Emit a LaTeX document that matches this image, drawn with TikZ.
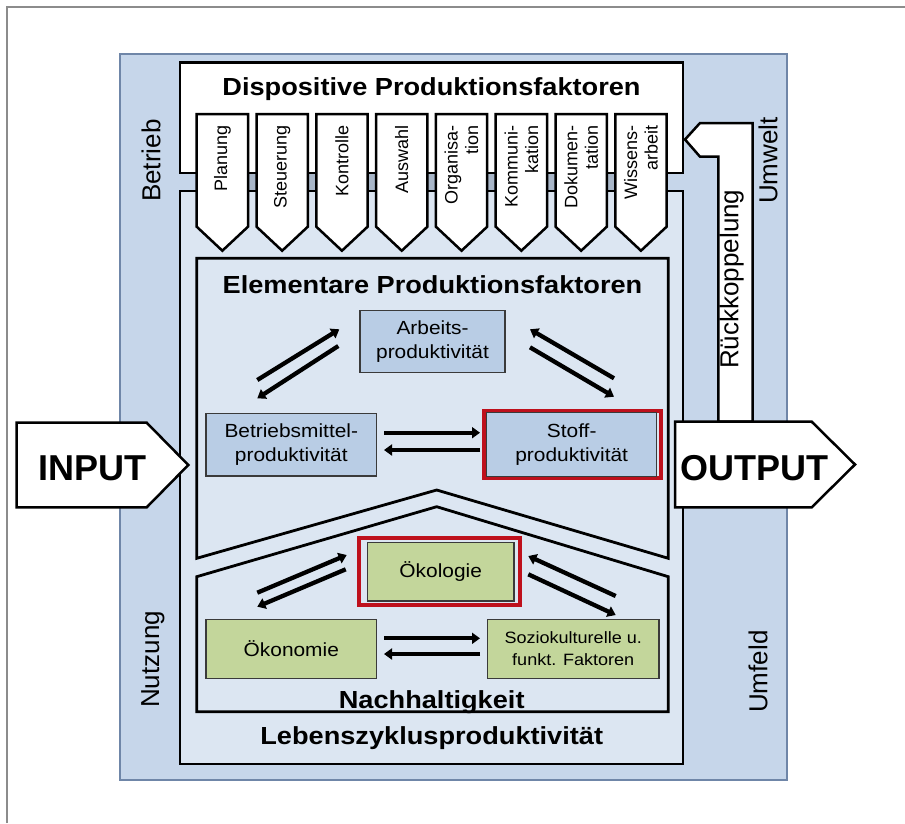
\documentclass[tikz,border=0pt]{standalone}
\usepackage{fontspec}
\setmainfont{Liberation Sans}
\newfontfamily\widefont[FakeStretch=1.1]{Liberation Sans}
\usetikzlibrary{arrows.meta}

\definecolor{frameGray}{HTML}{8C8C8C}
\definecolor{envBlue}{HTML}{C6D6EA}
\definecolor{envEdge}{HTML}{6F86A8}
\definecolor{paleBlue}{HTML}{DCE6F2}
\definecolor{boxBlue}{HTML}{B9CDE5}
\definecolor{boxGreen}{HTML}{C3D69B}
\definecolor{stripGray}{HTML}{A8B6C8}
\definecolor{markRed}{HTML}{BE101C}
\definecolor{boxEdge}{HTML}{3A3A3A}

\begin{document}
\begin{tikzpicture}[x=1pt,y=-1pt,
  wall/.style={draw=black,line width=2.8pt,line join=miter},
  tab/.style={draw=black,fill=white,line width=2.5pt,line join=miter},
  tablabel/.style={rotate=90,anchor=east,inner sep=0pt,align=right,
    font=\fontsize{18}{20.5}\selectfont},
  sidelabel/.style={rotate=90,anchor=west,inner sep=0pt,
    font=\fontsize{26}{30}\selectfont},
  title/.style={anchor=base,inner sep=0pt,
    font=\widefont\bfseries\fontsize{24.7}{28}\selectfont},
  bigtag/.style={anchor=base,inner sep=0pt,
    font=\bfseries\fontsize{36}{40}\selectfont},
  bbox/.style={draw=boxEdge,line width=1.3pt,fill=boxBlue,align=center,
    inner sep=0pt,font=\widefont\fontsize{19}{24.5}\selectfont},
  gbox/.style={bbox,fill=boxGreen},
  redframe/.style={draw=markRed,line width=4pt,inner sep=0pt},
  flow/.style={line width=4.3pt,-{Triangle[length=8pt,width=11pt]}}
]
% page and outer frame
\fill[white] (0,0) rectangle (905,823);
\useasboundingbox (0,0) rectangle (905,823);
\draw[frameGray,line width=2pt] (6.5,823) -- (6.5,6.5) -- (905,6.5);

% environment band
\draw[envEdge,fill=envBlue,line width=2pt] (119.5,54) rectangle (787,780);

% gap strip between the two main blocks
\fill[stripGray] (196.7,173) rectangle (666,191);

% dispositive block and life-cycle block
\draw[wall,fill=white] (180,62.7) rectangle (683,173);
\draw[wall,fill=paleBlue] (180,191) rectangle (683,764);

% dispositive factor tabs
\foreach \lbl [count=\i from 0] in {Planung,Steuerung,Kontrolle,Auswahl,
    {Organisa-\\tion},{Kommuni-\\kation},{Dokumen-\\tation},{Wissens-\\arbeit}} {
  \pgfmathsetmacro\xl{196.7+59.8*\i}
  \draw[tab] (\xl,114) -- ++(51.3,0) -- ++(0,112.7) -- ++(-25.65,24)
    -- ++(-25.65,-24) -- cycle;
  \node[tablabel] (f\i) at (\xl+25.65,125.5) {\lbl};
}

% elementary factors panel with roof-shaped lower edge
\draw[wall,fill=paleBlue] (196.7,258.3) -- (668.3,258.3) -- (668.3,558.3)
  -- (436.7,490) -- (196.7,558.3) -- cycle;
% sustainability house
\draw[wall,fill=paleBlue] (196.7,711.7) -- (196.7,576.7) -- (436.7,506.7)
  -- (668.3,576.7) -- (668.3,711.7) -- cycle;

% productivity boxes
\node[bbox,minimum width=145pt,minimum height=62pt] (arb) at (432.5,341.7)
  {Arbeits-\\produktivität};
\node[bbox,minimum width=170.7pt,minimum height=62.7pt] (bm) at (291.3,444.7)
  {Betriebsmittel-\\produktivität};
\node[redframe,minimum width=177pt,minimum height=67pt] (stoffmark) at (572.2,444.7) {};
\node[bbox,minimum width=170pt,minimum height=64pt] (stoff) at (571.7,444.7)
  {Stoff-\\produktivität};

% sustainability boxes
\node[redframe,minimum width=161.6pt,minimum height=66.7pt] (oekomark) at (439.5,571.3) {};
\node[gbox,minimum width=146.7pt,minimum height=58.7pt] (oeko) at (440.7,571.7)
  {Ökologie};
\node[gbox,minimum width=170.7pt,minimum height=59pt] (oekon) at (291.3,648.8)
  {Ökonomie};
\node[gbox,minimum width=171.7pt,minimum height=59pt,
  font=\widefont\fontsize{16.4}{21.7}\selectfont] (sozio) at (573.2,648.8)
  {Soziokulturelle u.\\funkt. Faktoren};

% arrow end points, elementary factors
\coordinate (a1s) at (257.3,380);   \coordinate (a1e) at (339.3,329.3);
\coordinate (a2s) at (338.3,346);   \coordinate (a2e) at (257.3,398.3);
\coordinate (a3s) at (614,378.3);   \coordinate (a3e) at (530,329.3);
\coordinate (a4s) at (530,347.3);   \coordinate (a4e) at (614,396.7);
\coordinate (a5s) at (384,432.7);   \coordinate (a5e) at (480,432.7);
\coordinate (a6s) at (480,450);     \coordinate (a6e) at (384,450);
% arrow end points, sustainability
\coordinate (b1s) at (257.3,592.7); \coordinate (b1e) at (346.7,555);
\coordinate (b2s) at (345.7,569.3); \coordinate (b2e) at (257.3,606.7);
\coordinate (b3s) at (615.7,596);   \coordinate (b3e) at (528.3,556);
\coordinate (b4s) at (528.3,574.3); \coordinate (b4e) at (615.7,615);
\coordinate (b5s) at (384,638.3);   \coordinate (b5e) at (480,638.3);
\coordinate (b6s) at (480,654);     \coordinate (b6e) at (384,654);

\foreach \p in {a1,a2,a3,a4,a5,a6,b1,b2,b3,b4,b5,b6}
  \draw[flow] (\p s) -- (\p e);

% feedback arrow
\draw[tab] (685,139.5) -- (700,123) -- (752.7,123) -- (752.7,421.7)
  -- (718.3,421.7) -- (718.3,156.7) -- (700,156.7) -- cycle;

% input and output arrows
\draw[tab] (16.7,422.7) -- (146.7,422.7) -- (188.3,465) -- (146.7,507.3)
  -- (16.7,507.3) -- cycle;
\draw[tab] (675,421.7) -- (811.7,421.7) -- (855,464.5) -- (811.7,507.3)
  -- (675,507.3) -- cycle;
\node[bigtag] (input) at (92.5,480) {INPUT};
\node[bigtag] (output) at (754,480) {OUTPUT};

% titles
\node[title] (disp) at (431.5,95) {Dispositive Produktionsfaktoren};
\node[title] (elem) at (432.5,293) {Elementare Produktionsfaktoren};
\node[title] (nach) at (431.7,708) {Nachhaltigkeit};
\node[title] (lzp) at (431.7,744) {Lebenszyklusproduktivität};

% side labels
\node[sidelabel] (betrieb) at (151,202) {Betrieb};
\node[sidelabel] (umwelt) at (768,204) {Umwelt};
\node[sidelabel] (nutzung) at (153,708) {Nutzung};
\node[sidelabel] (umfeld) at (758,713) {Umfeld};
\node[sidelabel] (rueck) at (731.7,369) {Rückkoppelung};
\end{tikzpicture}
\end{document}
